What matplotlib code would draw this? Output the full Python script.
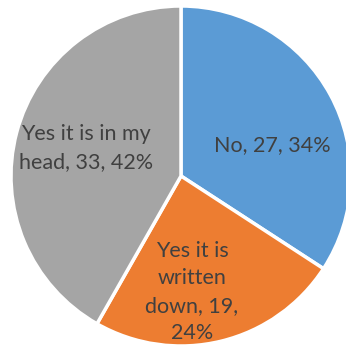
import matplotlib.pyplot as plt

plt.rcParams['font.family'] = ['Lato', 'DejaVu Sans']

labels = ['No', 'Yes it is written down', 'Yes it is in my head']
counts = [27, 19, 33]
percents = [34, 24, 42]
colors = ['#5B9BD5', '#ED7D31', '#A5A5A5']

# label text as shown inside each slice
label_text = [
    f'{labels[0]}, {counts[0]}, {percents[0]}%',
    f'Yes it is\nwritten\ndown, {counts[1]},\n{percents[1]}%',
    f'Yes it is in my\nhead, {counts[2]}, {percents[2]}%',
]
label_pos = [(272, 205), (192, 58), (86, 202)]

fig = plt.figure(figsize=(3.46, 3.5), dpi=100)
ax = fig.add_axes([0, 0, 1, 1])

ax.pie(counts, colors=colors, startangle=90, counterclock=False,
       center=(181, 174), radius=170,
       wedgeprops=dict(edgecolor='white', linewidth=2.5))
ax.set_xlim(0, 346)
ax.set_ylim(0, 350)
ax.set_aspect('equal')
ax.axis('off')

for txt, (x, y) in zip(label_text, label_pos):
    ax.text(x, y, txt, ha='center', va='center', fontsize=15.5,
            color='#404040', linespacing=1.45)

fig.savefig('out.png', dpi=100)
